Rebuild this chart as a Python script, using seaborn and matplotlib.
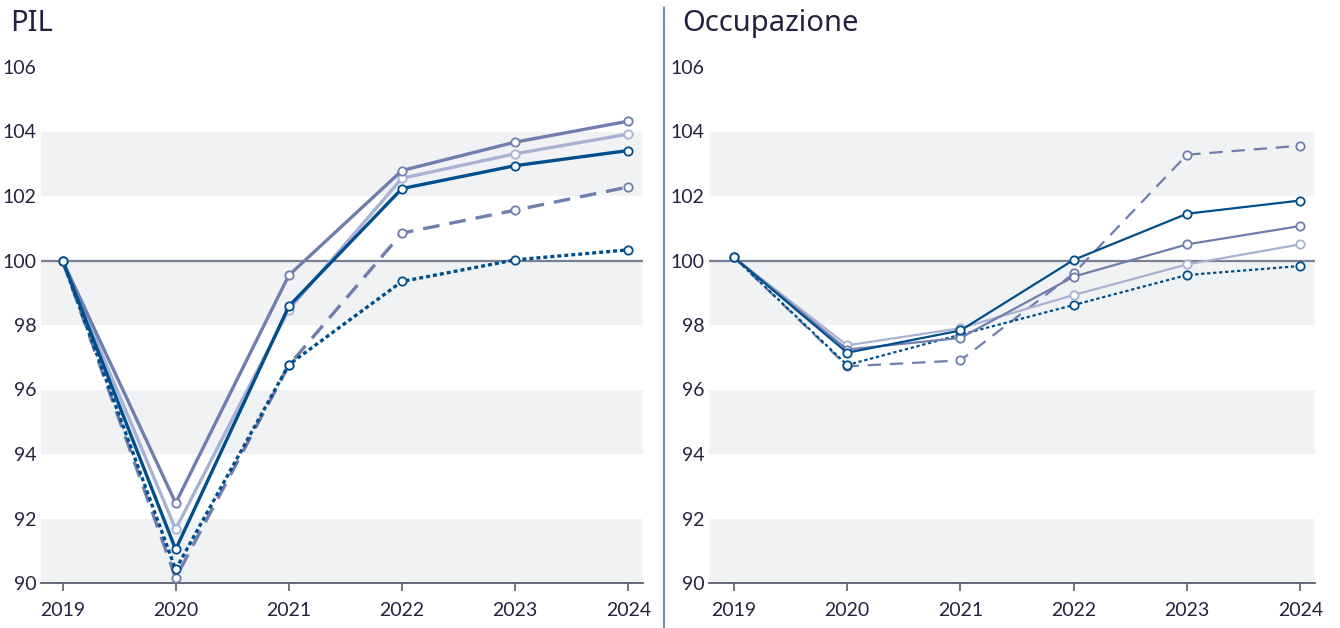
import pandas as pd
import matplotlib.pyplot as plt
import seaborn as sns
from matplotlib.lines import Line2D

# data
years = [2019, 2020, 2021, 2022, 2023, 2024]

pil_slate = [100, 92.48, 99.54, 102.79, 103.67, 104.32]
pil_light = [100, 91.67, 98.48, 102.55, 103.31, 103.92]
pil_dark = [100, 91.04, 98.58, 102.23, 102.94, 103.41]
pil_dash = [100, 90.16, 96.75, 100.85, 101.56, 102.28]
pil_dot = [100, 90.42, 96.77, 99.35, 100.02, 100.33]

occ_dark = [100.1, 97.14, 97.83, 100.02, 101.45, 101.86]
occ_slate = [100.1, 97.24, 97.60, 99.50, 100.50, 101.07]
occ_light = [100.1, 97.37, 97.90, 98.93, 99.88, 100.50]
occ_dash = [100.1, 96.72, 96.90, 99.60, 103.28, 103.56]
occ_dot = [100.1, 96.76, 97.70, 98.62, 99.55, 99.83]

bands = [(90, 92), (94, 96), (98, 100), (102, 104)]
yticks = [90, 92, 94, 96, 98, 100, 102, 104, 106]

DARK = "#004f8c"
SLATE = "#6f7eae"
LIGHT = "#a9b2d2"
TEXT = "#23233f"

sns.set_theme(style="white")
plt.rcParams["font.family"] = ["Lato", "DejaVu Sans"]

fig = plt.figure(figsize=(13.4, 6.28), dpi=100)
ax1 = fig.add_axes([41 / 1340, 45 / 628, 602 / 1340, 516 / 628])
ax2 = fig.add_axes([709 / 1340, 45 / 628, 606 / 1340, 516 / 628])


def draw_panel(ax, series, lw, x0):
    for lo, hi in bands:
        ax.axhspan(lo, hi, color="#f1f2f4", lw=0, zorder=0)
    ax.axhline(100, color="#7b7f95", lw=1.6, zorder=1)
    for vals, color, ls in series:
        df = pd.DataFrame({"anno": years, "valore": vals})
        sns.lineplot(data=df, x="anno", y="valore", ax=ax, color=color,
                     linestyle=ls, lw=lw, marker="o", ms=6, mfc="white",
                     mec=color, mew=1.3, legend=False, clip_on=False, zorder=3)
    ax.set_xlim(x0, 2024.13)
    ax.set_ylim(90, 106)
    ax.set_xticks(years)
    ax.set_yticks(yticks)
    ax.set_xlabel("")
    ax.set_ylabel("")
    for s in ["top", "right", "left"]:
        ax.spines[s].set_visible(False)
    ax.spines["bottom"].set_color("#5a5d70")
    ax.spines["bottom"].set_linewidth(1.3)
    ax.tick_params(axis="y", length=0, pad=3, labelsize=14, labelcolor=TEXT)
    ax.tick_params(axis="x", length=6, width=1.2, color="#5a5d70", bottom=True,
                   direction="out", pad=8, labelsize=14, labelcolor=TEXT)


draw_panel(ax1, [
    (pil_dash, SLATE, (0, (5, 3))),
    (pil_dot, DARK, (0, (1.2, 0.9))),
    (pil_light, LIGHT, "-"),
    (pil_slate, SLATE, "-"),
    (pil_dark, DARK, "-"),
], lw=2.4, x0=2018.81)

draw_panel(ax2, [
    (occ_dash, SLATE, (0, (6, 4))),
    (occ_dot, DARK, (0, (1.5, 1.2))),
    (occ_light, LIGHT, "-"),
    (occ_slate, SLATE, "-"),
    (occ_dark, DARK, "-"),
], lw=1.6, x0=2018.78)

title_font = ["Noto Sans", "DejaVu Sans"]
fig.text(10 / 1340, 1 - 9 / 628, "PIL", ha="left", va="top", fontsize=21,
         color=TEXT, family=title_font)
fig.text(682 / 1340, 1 - 9 / 628, "Occupazione", ha="left", va="top", fontsize=21,
         color=TEXT, family=title_font)
fig.add_artist(Line2D([664 / 1340, 664 / 1340], [0, 1 - 7 / 628],
                      color="#3c6fa8", lw=1.1))

fig.savefig("out.png", dpi=100)
